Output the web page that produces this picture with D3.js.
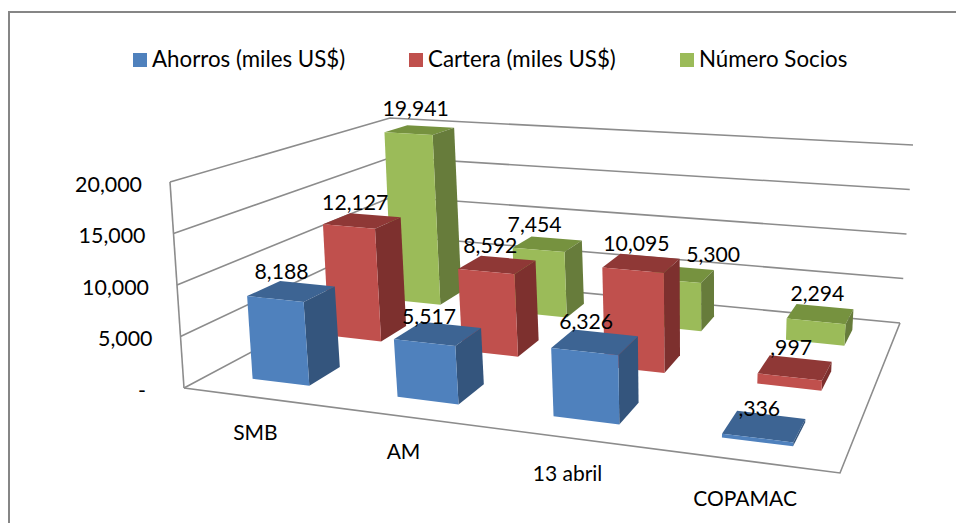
<!DOCTYPE html>
<html><head><meta charset="utf-8">
<style>html,body{margin:0;padding:0;background:#fff;overflow:hidden}svg{display:block}text{font-family:Lato,"Open Sans",sans-serif;fill:#000}</style>
<script src="https://cdn.jsdelivr.net/npm/d3@7/dist/d3.min.js"></script>
</head><body><svg id="c" width="956" height="523"></svg>
<script>
const categories = ["SMB","AM","13 abril","COPAMAC"];
const seriesNames = ["Ahorros (miles US$)","Cartera (miles US$)","Número Socios"];
const ahorros = [8188,5517,6326,336];
const cartera = [12127,8592,10095,997];
const socios = [19941,7454,5300,2294];
const tickValues = [0,5000,10000,15000,20000];
const tickLabels = ["-","5,000","10,000","15,000","20,000"];
const seriesValues = [ahorros,cartera,socios];

const fronts = ["#4F81BD","#C0504D","#9BBB59"];
const sides  = ["#34557D","#7D302E","#677C3B"];
const tops   = ["#3D6493","#8F3836","#76923F"];

// label placement tweaks, in pixels (series by category)
const labelDx = [[-10,-9,-9,-5],[-7,-7,-5,-4],[-4,-13,33,-3]];
const labelDy = [[3,5,2,5],[4,3,3,3],[1,3,3,2]];
const catDx = [3,0,1,2];
const catDy = [1,1,2,4];

// corners: front-left, front-right, back-right, back-left
const floorQ = [[184,388],[840,473],[900,323],[396,275]];
const ceilQ  = [[170,182],[862,238],[913,145],[390,118]];

function squareToQuad(q){
  const [[x0,y0],[x1,y1],[x2,y2],[x3,y3]] = q;
  const dx1=x1-x2,dx2=x3-x2,sx=x0-x1+x2-x3,dy1=y1-y2,dy2=y3-y2,sy=y0-y1+y2-y3;
  const den=dx1*dy2-dx2*dy1;
  const g=(sx*dy2-dx2*sy)/den,h=(dx1*sy-sx*dy1)/den;
  const a=x1-x0+g*x1,b=x3-x0+h*x3,c=x0,d=y1-y0+g*y1,e=y3-y0+h*y3,f=y0;
  return (u,v)=>{const w=g*u+h*v+1;return [(a*u+b*v+c)/w,(d*u+e*v+f)/w];};
}
const floorH=squareToQuad(floorQ), ceilH=squareToQuad(ceilQ);
const yScale=d3.scaleLinear().domain([0,20000]).range([0,1]);
const xBand=d3.scaleBand().domain(categories).range([0,1]).paddingInner(0.6).paddingOuter(0.3);
const zBand=d3.scaleBand().domain([0,1,2]).range([0,1]).paddingInner(0.6).paddingOuter(0.3);
function P(u,v,val){
  const a=floorH(u,v),b=ceilH(u,v),t=yScale(val);
  return [a[0]+(b[0]-a[0])*t,a[1]+(b[1]-a[1])*t];
}
const svg=d3.select("#c");
const line=d3.line();
const gridColor="#8C8C8C";

// outer frame
svg.append("path").attr("d","M9,523V12H956").attr("fill","none").attr("stroke","#868686").attr("stroke-width",2);

// walls
const g=svg.append("g").attr("fill","none").attr("stroke",gridColor).attr("stroke-width",1.6);
tickValues.forEach(t=>{
  g.append("path").attr("d",line([P(0,0,t),P(0,1,t),P(1,1,t)]));
});
g.append("path").attr("d",line([P(0,0,0),P(0,0,20000)]));
g.append("path").attr("d",line([P(0,0,0),P(1,0,0),P(1,1,0)]));

// bars, back row first
const bars=[];
[2,1,0].forEach(s=>categories.forEach((c,i)=>{
  const val=seriesValues[s][i],u0=xBand(c),u1=u0+xBand.bandwidth(),v0=zBand(s),v1=v0+zBand.bandwidth();
  bars.push({s,i,val,u0,u1,v0,v1});
}));
const bar=svg.append("g").selectAll("g").data(bars).join("g");
bar.append("path").attr("fill",d=>tops[d.s])
  .attr("d",d=>line([P(d.u0,d.v0,d.val),P(d.u1,d.v0,d.val),P(d.u1,d.v1,d.val),P(d.u0,d.v1,d.val)])+"Z");
bar.append("path").attr("fill",d=>sides[d.s])
  .attr("d",d=>line([P(d.u1,d.v0,0),P(d.u1,d.v1,0),P(d.u1,d.v1,d.val),P(d.u1,d.v0,d.val)])+"Z");
bar.append("path").attr("fill",d=>fronts[d.s])
  .attr("d",d=>line([P(d.u0,d.v0,0),P(d.u1,d.v0,0),P(d.u1,d.v0,d.val),P(d.u0,d.v0,d.val)])+"Z");

// data labels
const fmt=v=>v<1000?","+v:d3.format(",")(v);
svg.append("g").selectAll("text").data(bars).join("text")
  .attr("text-anchor","middle").attr("font-size",21.2).attr("dominant-baseline","central")
  .attr("x",d=>P((d.u0+d.u1)/2,(d.v0+d.v1)/2,d.val)[0]+labelDx[d.s][d.i])
  .attr("y",d=>P((d.u0+d.u1)/2,(d.v0+d.v1)/2,d.val)[1]-23+labelDy[d.s][d.i])
  .text(d=>fmt(d.val));

// value ticks
svg.append("g").selectAll("text").data(tickValues).join("text")
  .attr("text-anchor","end").attr("font-size",21.4).attr("dominant-baseline","central")
  .attr("x",t=>P(0,0,t)[0]-(t===0?38:28)).attr("y",t=>P(0,0,t)[1]+1.5)
  .text((t,i)=>tickLabels[i]);

// category labels
svg.append("g").selectAll("text").data(categories).join("text")
  .attr("text-anchor","middle").attr("font-size",21).attr("dominant-baseline","central")
  .attr("x",(c,i)=>P(xBand(c)+xBand.bandwidth()/2,0,0)[0]-3+catDx[i])
  .attr("y",(c,i)=>P(xBand(c)+xBand.bandwidth()/2,0,0)[1]+33+catDy[i])
  .text(c=>c);

// legend
const legendX=d3.scaleOrdinal().domain(seriesNames).range([133,409,680]);
const leg=svg.append("g").selectAll("g").data(seriesNames).join("g")
  .attr("transform",d=>`translate(${legendX(d)},53)`);
leg.append("rect").attr("width",14).attr("height",14).attr("fill",(d,i)=>fronts[i]);
leg.append("text").attr("x",19).attr("y",5).attr("font-size",22.3).attr("dominant-baseline","central").text(d=>d);
</script></body></html>
